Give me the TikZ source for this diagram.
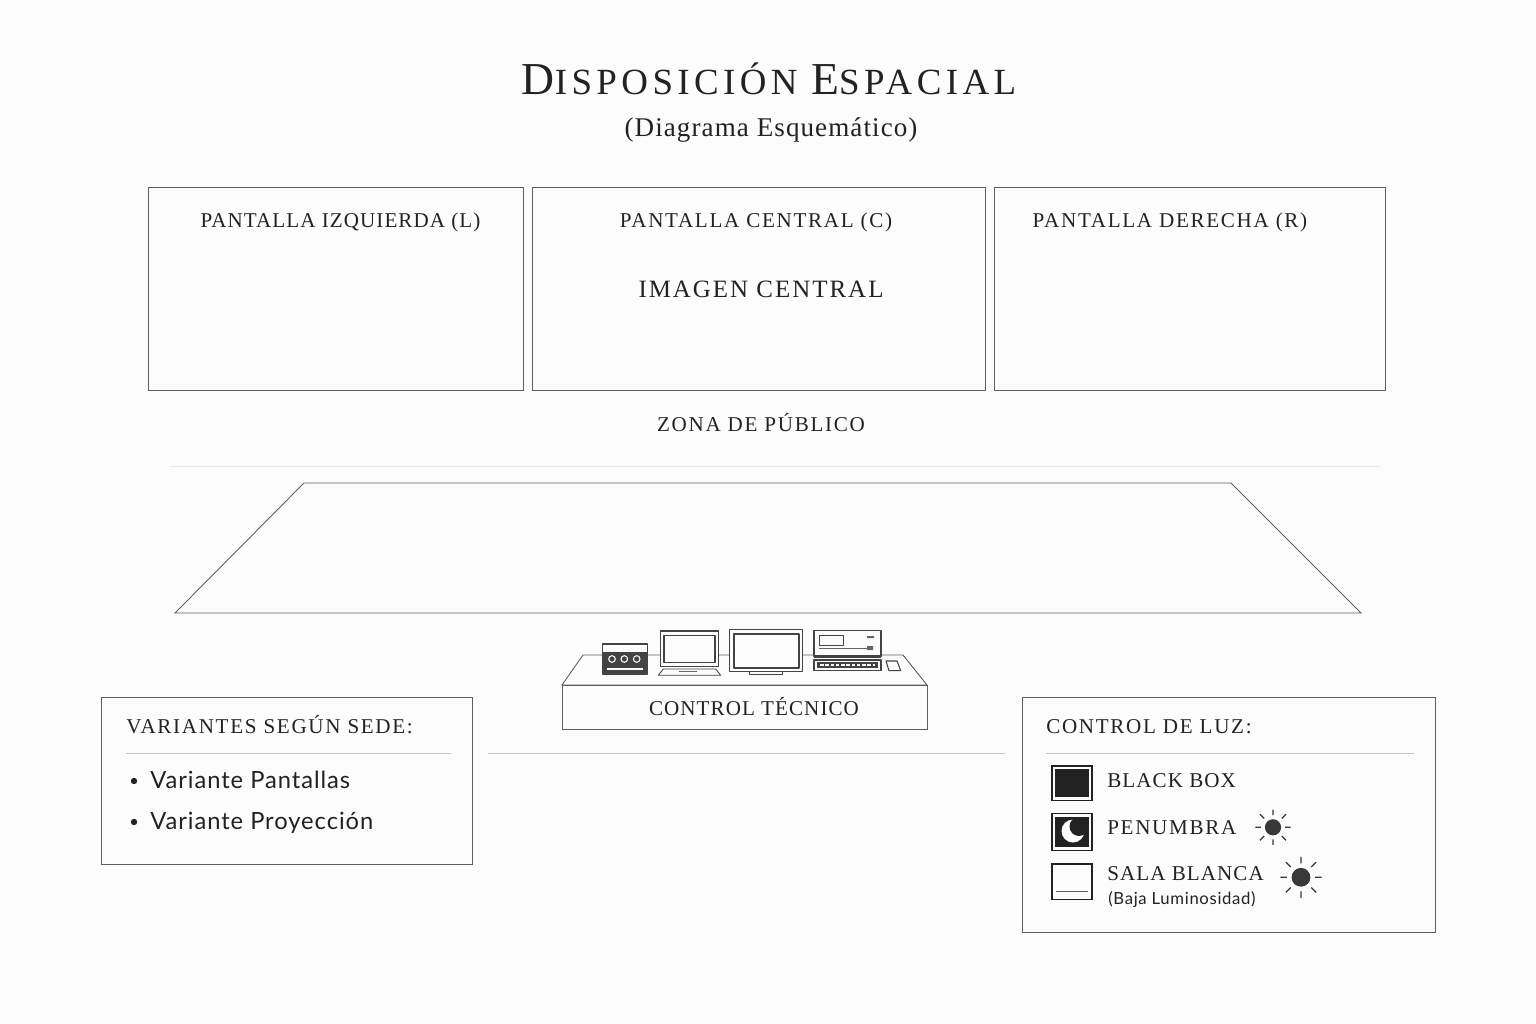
\documentclass[tikz,border=0pt]{standalone}
\usepackage{fontspec}
\usepackage{xcolor}
\setmainfont{Liberation Serif}
\newfontfamily\capsfont[LetterSpace=5]{Liberation Serif}
\newfontfamily\capswidefont[LetterSpace=8]{Liberation Serif}
\newfontfamily\subtitlefont[LetterSpace=4]{Liberation Serif}
\newfontfamily\titlefont[LetterSpace=12]{Liberation Serif}
\newfontfamily\bodyfont[LetterSpace=4]{Lato}
\definecolor{paperc}{HTML}{FDFCFC}
\definecolor{framec}{HTML}{5E5E5E}
\definecolor{rulec}{HTML}{C6C6C6}
\definecolor{inkc}{HTML}{222222}
\tikzset{
  panel/.style={draw=framec, line width=0.5pt},
  device/.style={draw=inkc!85, fill=paperc, line width=0.7pt, line join=round},
  devicedark/.style={fill=inkc!85},
  hairline/.style={draw=rulec, line width=0.5pt},
  caps/.style={text=inkc, anchor=base, inner sep=0pt, font=\capsfont\fontsize{12}{14}\selectfont},
  capswide/.style={caps, font=\capswidefont\fontsize{12}{14}\selectfont},
  capsleft/.style={caps, anchor=base west},
  body/.style={text=inkc, anchor=base west, inner sep=0pt, font=\bodyfont\fontsize{13.5}{15}\selectfont},
  lighticon/.style={draw=inkc, fill=paperc, line width=0.8pt},
  sunicon/.pic={
    \fill[inkc!90] (0,0) circle (0.87);
    \draw[inkc!90, line width=0.7pt] (1.3,0) -- (1.9,0) (-1.3,0) -- (-1.9,0) (0,1.3) -- (0,1.9) (0,-1.3) -- (0,-1.9)
      (0.95,0.95) -- (1.4,1.4) (-0.95,0.95) -- (-1.4,1.4) (0.95,-0.95) -- (1.4,-1.4) (-0.95,-0.95) -- (-1.4,-1.4);
  },
}
\begin{document}
\begin{tikzpicture}[x=0.02cm, y=-0.02cm]
\useasboundingbox (0,0) rectangle (1536,1024);
\fill[paperc] (0,0) rectangle (1536,1024);
% title
\node[anchor=base, inner sep=0pt, text=inkc] (title) at (769,95) {\titlefont\fontsize{26}{28}\selectfont D\fontsize{21}{28}\selectfont ISPOSICIÓN \fontsize{26}{28}\selectfont E\fontsize{21}{28}\selectfont SPACIAL};
\node[anchor=base, inner sep=0pt, text=inkc, font=\subtitlefont\fontsize{15.4}{17}\selectfont] (subtitle) at (771,136.5) {(Diagrama Esquemático)};
% screens
\draw[panel] (148.7,187) rectangle (523.7,390.7);
\draw[panel] (532.7,187) rectangle (985.5,390.7);
\draw[panel] (994.7,187) rectangle (1385.5,390.7);
\node[caps] (screenl) at (340.5,228) {PANTALLA IZQUIERDA (L)};
\node[capswide] (screenc) at (756,228) {PANTALLA CENTRAL (C)};
\node[capswide] (screenr) at (1170,228) {PANTALLA DERECHA (R)};
\node[caps, font=\capswidefont\fontsize{14.2}{16}\selectfont] (imagen) at (761,297) {IMAGEN CENTRAL};
\node[capswide] (zona) at (761,431) {ZONA DE PÚBLICO};
\draw[rulec!40, line width=0.5pt] (170,466) -- (1380,466);
% floor
\draw[panel] (304,483) -- (1231,483) -- (1361,613) -- (175,613) -- cycle;
% desk
\draw[panel] (583,655) -- (903,655) -- (927,685) -- (562,685) -- cycle;
\draw[panel] (562,685) rectangle (927,729);
\node[caps] (control) at (754,715) {CONTROL TÉCNICO};
\draw[hairline] (488,753) -- (1005,753);
% mixer
\draw[device] (602.3,644) rectangle (647.3,674);
\fill[devicedark] (602.3,652) rectangle (647.3,674);
\draw[paperc, line width=0.6pt] (612,659) circle (3.3) (624.3,659) circle (3.3) (636.7,659) circle (3.3);
\draw[paperc, line width=0.6pt] (607,669) -- (643,669);
% laptop
\draw[device] (660.3,631) rectangle (718.3,666.7);
\draw[device] (664,635.7) rectangle (715,662.7);
\draw[device, line width=0.5pt] (663.3,669) -- (715.7,669) -- (720.7,675.3) -- (658.3,675.3) -- cycle;
\draw[inkc!70, line width=0.5pt] (679,671.5) -- (697,671.5);
% monitor
\draw[device] (729.7,629.7) rectangle (802.3,671.7);
\draw[device, line width=1.2pt] (733.7,633.7) rectangle (798.7,667.7);
\draw[device, line width=0.5pt] (749.3,671.7) rectangle (782.3,674.7);
% rack
\draw[device, line width=0.9pt] (814,630.7) rectangle (881,656.7);
\fill[devicedark] (814,654.5) rectangle (881,657.5);
\draw[device, line width=0.5pt] (819,635.7) rectangle (843.7,645.7);
\draw[inkc!70, line width=0.5pt] (819,648.5) -- (868,648.5);
\fill[inkc!70] (867,636) rectangle (874,638) (867,646) rectangle (873,650);
\draw[device, line width=0.8pt] (814,660) rectangle (881,670.5);
\fill[devicedark] (817,662) rectangle (878,668);
\draw[paperc, line width=1.2pt, dash pattern=on 2pt off 1pt] (820,665) -- (875,665);
\draw[device, line width=0.6pt] (886,661) -- (897,661) -- (900.7,670.7) -- (889,670.7) -- cycle;
% variants
\draw[panel] (101.7,697) rectangle (472,864.5);
\node[capswide, anchor=base west] (varianttitle) at (126,733) {VARIANTES SEGÚN SEDE:};
\draw[hairline] (126,753) -- (451,753);
\fill[inkc] (134,781) circle (3.2);
\fill[inkc] (134,822) circle (3.2);
\node[body] (variantone) at (150,788) {Variante Pantallas};
\node[body] (varianttwo) at (150,829) {Variante Proyección};
% light
\draw[panel] (1022.7,697) rectangle (1435.5,932.5);
\node[capswide, anchor=base west] (lighttitle) at (1046,733) {CONTROL DE LUZ:};
\draw[hairline] (1046,753) -- (1414,753);
\draw[lighticon] (1052,766) rectangle (1092,800.7);
\fill[inkc] (1055,769.3) rectangle (1089,797.3);
\node[capsleft] (blackbox) at (1107,787) {BLACK BOX};
\draw[lighticon] (1052,813.3) rectangle (1092,850.7);
\fill[inkc] (1055,816.7) rectangle (1089,847.3);
\fill[paperc] (1073,831) circle (11.5);
\fill[inkc] (1079,826.5) circle (9.5);
\node[capswide, anchor=base west] (penumbra) at (1107,834) {PENUMBRA};
\pic[scale=9.3] at (1273,827.3) {sunicon};
\draw[lighticon] (1052,864) rectangle (1092,899.3);
\draw[framec, line width=0.7pt] (1056,891.7) -- (1088,891.7);
\node[capsleft] (salablanca) at (1107,880) {SALA BLANCA};
\node[body, font=\bodyfont\fontsize{9.5}{11}\selectfont] (bajaluz) at (1108,904) {(Baja Luminosidad)};
\pic[scale=10.8] at (1301,877.3) {sunicon};
\end{tikzpicture}
\end{document}
